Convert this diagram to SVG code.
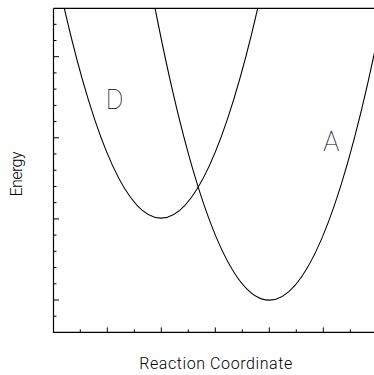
<svg xmlns="http://www.w3.org/2000/svg" width="374" height="375" viewBox="0 0 374 375">
<style>
.ax{stroke:#000;stroke-width:1.2;fill:none}
.tk{stroke:#000;stroke-width:1;fill:none}
.cv{stroke:#000;stroke-width:1.1;fill:none}
.lbl{font-family:Roboto,"Liberation Sans",sans-serif;font-weight:300;fill:#000}
.big{font-weight:100}
</style>
<rect width="374" height="375" fill="#fff"/>
<g id="axes">
<path class="ax" d="M53.5,8.3H374M53.5,8.3V332.4H374"/>
<path class="tk" d="M53.5,316.2h3M53.5,300h5.5M53.5,283.8h3M53.5,267.5h3M53.5,251.3h3M53.5,235.1h3M53.5,218.9h5.5M53.5,202.7h3M53.5,186.5h3M53.5,170.2h3M53.5,154h3M53.5,137.8h5.5M53.5,121.6h3M53.5,105.4h3M53.5,89.1h3M53.5,72.9h3M53.5,56.7h5.5M53.5,40.5h3M53.5,24.3h3"/>
<path class="tk" d="M80.3,332.4v-3M107.3,332.4v-5M134.3,332.4v-3M161.3,332.4v-5M188.3,332.4v-3M215.3,332.4v-5M242.3,332.4v-3M269.3,332.4v-5M296.3,332.4v-3M323.3,332.4v-5M350.3,332.4v-3"/>
<text class="lbl" x="215.7" y="369" font-size="16" text-anchor="middle" textLength="153" lengthAdjust="spacing">Reaction Coordinate</text>
<text class="lbl" transform="translate(21.5,174) rotate(-90)" x="0" y="0" font-size="16" text-anchor="middle" textLength="45" lengthAdjust="spacing">Energy</text>
</g>
<g id="connectors">
<path id="curve-D" class="cv" d="M64.3,8.3Q161,428 257.7,8.3"/>
<path id="curve-A" class="cv" d="M155.1,8.3Q269.3,592 383.5,8.3"/>
</g>
<g id="node-D"><text class="lbl big" x="114.7" y="109.3" font-size="27" text-anchor="middle">D</text></g>
<g id="node-A"><text class="lbl big" x="331.3" y="150.7" font-size="27" text-anchor="middle">A</text></g>
</svg>
